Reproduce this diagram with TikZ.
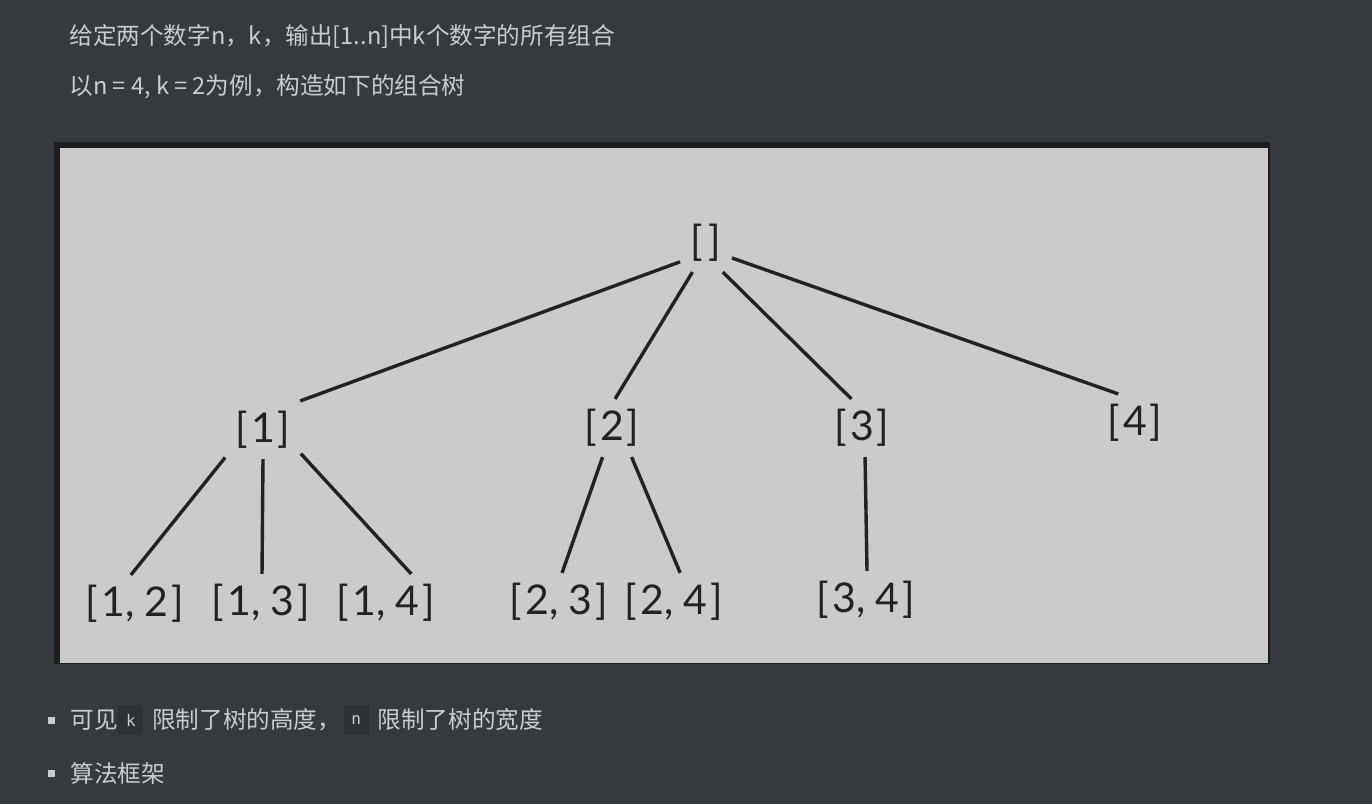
\documentclass[tikz,border=0pt]{standalone}
\usepackage{fontspec}
\setmainfont{Lato}
\newfontfamily\cjk{Noto Sans CJK SC}
\newfontfamily\codefont{DejaVu Sans Mono}
\usetikzlibrary{positioning}
\definecolor{pagebg}{HTML}{363A3F}
\definecolor{textcol}{HTML}{C9CDD1}
\definecolor{codebg}{HTML}{2E3236}
\definecolor{framecol}{HTML}{1C1D1E}
\definecolor{panelcol}{HTML}{CBCBCB}
\definecolor{inkcol}{HTML}{222222}
\newcommand\setof[1]{[\kern1.5pt#1\kern1.5pt]}
\tikzset{
  x=0.5pt, y=-0.5pt, % one unit is one pixel of the screenshot
  node distance=3pt, % gap between the pieces of a text line
  every edge/.style={draw=inkcol, line width=1.7pt}, % the branches of the tree
  set/.style={font=\fontsize{20.5}{20.5}\selectfont, text=inkcol, inner sep=5pt}, % a node of the tree
  line/.style={font=\cjk\fontsize{11.8}{12}\selectfont, text=textcol, inner sep=0pt, anchor=west}, % a line of the page
  code/.style={font=\codefont\fontsize{8}{8}\selectfont, text=textcol, fill=codebg, minimum width=12.5pt, minimum height=15pt, inner sep=0pt}, % inline code
  bullet/.style={fill=textcol, minimum size=3.5pt, inner sep=0pt}, % list marker
}

\begin{document}
\begin{tikzpicture}
  \fill[pagebg] (0,0) rectangle (1372,804);
  \useasboundingbox (0,0) rectangle (1372,804);

  % text above the picture
  \node[line] (t1) at (69,37) {给定两个数字n，k，输出[1..n]中k个数字的所有组合};
  \node[line] (t2) at (69,87) {以n = 4, k = 2为例，构造如下的组合树};

  % the picture
  \fill[framecol] (54,142) rectangle (1270,664);
  \fill[panelcol] (60,148) rectangle (1268,663);

  \node[set] (r) at (706,243) {\setof{}};
  \node[set] (1) at (263,430) {\setof{1}};
  \node[set] (2) at (612,428) {\setof{2}};
  \node[set] (3) at (862,428) {\setof{3}};
  \node[set] (4) at (1135,423) {\setof{4}};
  \node[set] (12) at (135,604) {\setof{1, 2}};
  \node[set] (13) at (261,603) {\setof{1, 3}};
  \node[set] (14) at (386,603) {\setof{1, 4}};
  \node[set] (23) at (559,602) {\setof{2, 3}};
  \node[set] (24) at (674,602) {\setof{2, 4}};
  \node[set] (34) at (866,600) {\setof{3, 4}};

  \draw (r.216) edge (1.38) (r.245) edge (2.84) (r.300) edge (3.110) (r.330) edge (4.120)
        (1.216) edge (12.98) (1.270) edge (13.88) (1.328) edge (14.49)
        (2.252) edge (23.84) (2.304) edge (24.78)
        (3.276) edge (34.88);

  % list below the picture
  \node[bullet] (b1) at (51,720) {};
  \node[line] (l1) at (70,720) {可见};
  \node[code, right=0pt of l1] (k) {k};
  \node[line, right=4pt of k] (l2) {限制了树的高度，};
  \node[code, right=1pt of l2] (n) {n};
  \node[line, right=4pt of n] (l3) {限制了树的宽度};
  \node[bullet] (b2) at (51,773) {};
  \node[line] (l4) at (70,773) {算法框架};
\end{tikzpicture}
\end{document}
